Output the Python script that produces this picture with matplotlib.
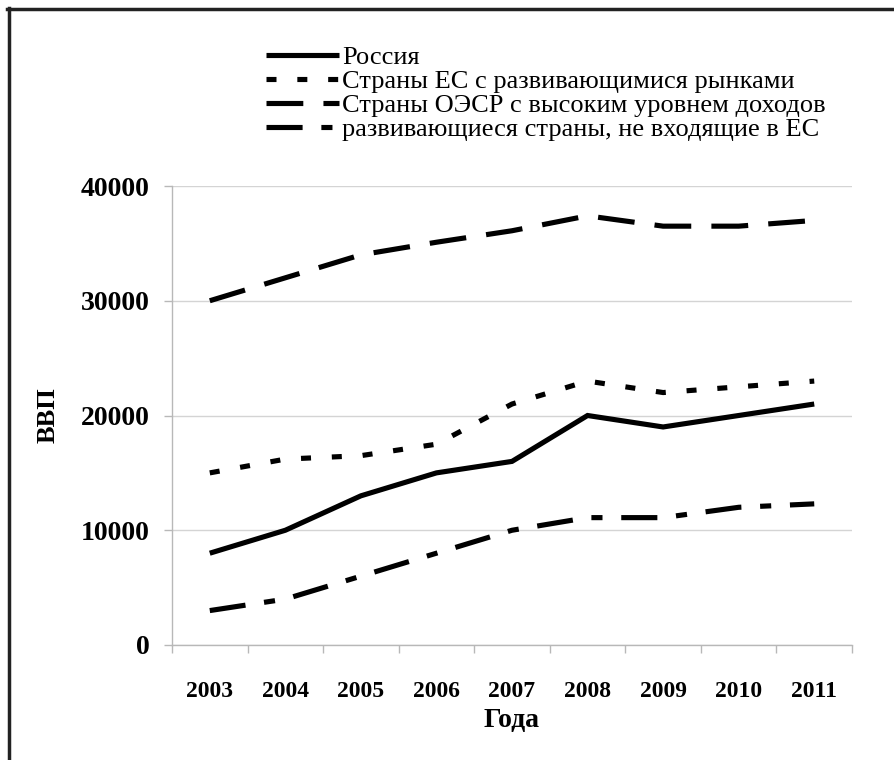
import matplotlib
matplotlib.use("Agg")
import matplotlib.pyplot as plt
from matplotlib.lines import Line2D

plt.rcParams['font.family'] = ['Liberation Serif', 'DejaVu Serif']
plt.rcParams['lines.scale_dashes'] = False

years = ['2003', '2004', '2005', '2006', '2007', '2008', '2009', '2010', '2011']
russia = [8000, 10000, 13000, 15000, 16000, 20000, 19000, 20000, 21000]
eu_emerging = [15000, 16200, 16500, 17500, 21000, 23000, 22000, 22500, 23000]
oecd_high = [30000, 32000, 34000, 35100, 36100, 37400, 36500, 36500, 37000]
non_eu_dev = [3000, 4000, 6000, 8000, 10000, 11100, 11100, 12000, 12300]
labels = ['Россия', 'Страны ЕС с развивающимися рынками',
          'Страны ОЭСР с высоким уровнем доходов',
          'развивающиеся страны, не входящие в ЕС']
yticks = [0, 10000, 20000, 30000, 40000]

fig = plt.figure(figsize=(8.94, 7.6), dpi=100)
ax = fig.add_axes([172/894, 1-645/760, 680/894, 459/760])

x = list(range(len(years)))
lw = 3.7
ax.plot(x, russia, color='black', lw=lw, solid_capstyle='butt', solid_joinstyle='miter', label=labels[0])
ax.plot(x, eu_emerging, color='black', lw=lw, dashes=(7.2, 15.0), dash_capstyle='butt', label=labels[1])
ax.plot(x, oecd_high, color='black', lw=lw, dashes=(26.5, 14.5), dash_capstyle='butt', label=labels[2])
ax.plot(x, non_eu_dev, color='black', lw=lw, dashes=(26.0, 13.5, 8.0, 13.5), dash_capstyle='butt', label=labels[3])

ax.set_xlim(-0.5, len(years) - 0.5)
ax.set_ylim(0, 40000)
ax.set_yticks(yticks)
ax.set_yticklabels([str(v) for v in yticks])
ax.set_xticks(x)
ax.set_xticklabels(years)
ax.set_xticks([i - 0.5 for i in range(len(years) + 1)], minor=True)

for lab in ax.get_xticklabels() + ax.get_yticklabels():
    lab.set_fontweight('bold')
ax.tick_params(axis='x', which='major', length=0, pad=26, labelsize=17)
ax.tick_params(axis='x', which='minor', length=6, width=1, color='#b8b8b8', direction='out')
ax.tick_params(axis='y', which='major', length=6, width=1, color='#b8b8b8', direction='out', pad=10, labelsize=20)

ax.yaxis.grid(True, color='#d4d4d4', lw=1)
ax.set_axisbelow(True)
for s in ['top', 'right']:
    ax.spines[s].set_visible(False)
for s in ['left', 'bottom']:
    ax.spines[s].set_color('#b8b8b8')
    ax.spines[s].set_linewidth(1)

ax.set_ylabel('ВВП', fontsize=19, fontweight='bold', labelpad=15)
ax.set_xlabel('Года', fontsize=20, fontweight='bold', labelpad=4)

leg = ax.legend(loc='lower left', bbox_to_anchor=(266/894, 1-141/760), bbox_transform=fig.transFigure,
                frameon=False, fontsize=19, handlelength=2.77, handletextpad=0.12,
                labelspacing=0.02, borderaxespad=0, borderpad=0)

# figure frame (top and left edges)
fig.add_artist(Line2D([8.5/894, 8.5/894], [0, 1-8/760], transform=fig.transFigure, color='#222222', lw=2.5))
fig.add_artist(Line2D([7/894, 1], [1-9/760, 1-9/760], transform=fig.transFigure, color='#222222', lw=2.5))

fig.savefig('out.png', dpi=100)
